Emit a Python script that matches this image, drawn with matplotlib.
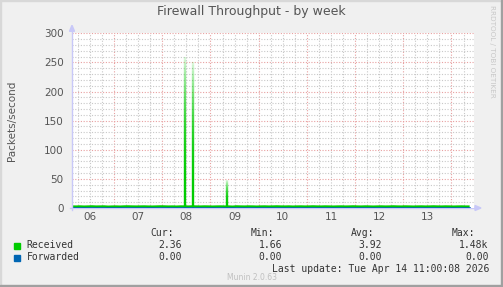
import numpy as np
import matplotlib
matplotlib.use("Agg")
import matplotlib.pyplot as plt
from matplotlib.collections import LineCollection
from matplotlib.patches import Rectangle

W, H = 503, 287
title = "Firewall Throughput - by week"
ylabel = "Packets/second"
day_labels = ["06", "07", "08", "09", "10", "11", "12", "13"]
day_positions = [6.5, 7.5, 8.5, 9.5, 10.5, 11.5, 12.5, 13.5]
y_ticks = [0, 50, 100, 150, 200, 250, 300]
x_start, x_end = 6.127, 14.467

# Received baseline, sampled every 2 hours from x_start
received = [2.4, 2.3, 2.5, 2.2, 2.4, 2.6, 2.3, 2.4, 2.5, 2.1, 2.3, 2.4,
            2.2, 2.5, 2.6, 2.4, 2.3, 2.4, 2.5, 2.3, 2.2, 2.4, 2.6, 2.5,
            2.3, 2.4, 2.2, 2.5, 2.4, 2.3, 2.6, 2.4, 2.3, 2.5, 2.4, 2.2,
            2.4, 2.5, 2.3, 2.4, 2.1, 2.6, 2.4, 2.3, 2.5, 2.4, 2.2, 2.4,
            2.5, 2.3, 2.4, 2.6, 2.4, 2.3, 2.5, 2.2, 2.4, 2.5, 2.3, 2.4,
            2.6, 2.4, 2.3, 2.5, 2.4, 2.2, 2.4, 2.5, 2.3, 2.4, 2.6, 2.4,
            2.3, 2.5, 2.4, 2.2, 2.4, 2.5, 2.3, 2.4, 2.6, 2.4, 2.3, 2.5,
            2.4, 2.2, 2.4, 2.5, 2.3, 2.4, 2.6, 2.4, 2.3, 2.5, 2.4, 2.2,
            2.4, 2.5, 2.3, 2.36]
forwarded = [0.0] * len(received)
spike_times = [8.47, 8.63, 9.34]
spike_values = [260, 250, 48]

legend_names = ["Received", "Forwarded"]
legend_colors = ["#00cc00", "#0066b3"]
cur_vals = ["2.36", "0.00"]
min_vals = ["1.66", "0.00"]
avg_vals = ["3.92", "0.00"]
max_vals = ["1.48k", "0.00"]
last_update = "Last update: Tue Apr 14 11:00:08 2026"
munin_ver = "Munin 2.0.63"

fig = plt.figure(figsize=(W / 100, H / 100), dpi=100, facecolor="#f0f0f0")

def fx(x):
    return x / W

def fy(y):
    return 1 - y / H

L, R, T, B = 72, 474, 33.3, 208
ax = fig.add_axes([fx(L), fy(B), (R - L) / W, (B - T) / H])
ax.set_facecolor("white")
ax.set_xlim(x_start, x_end)
ax.set_ylim(0, 300)
for s in ax.spines.values():
    s.set_visible(False)
ax.tick_params(length=0)

# grids
for v in np.arange(x_start - x_start % 0.25 + 0.25, x_end, 0.25):
    major = abs(v - round(v)) < 1e-6
    ax.axvline(v, color="#e8a0a0" if major else "#c8c8c8", lw=0.8,
               ls=(0, (1, 1.5)), zorder=1)
for v in range(10, 301, 10):
    major = v % 50 == 0
    ax.axhline(v, color="#e8a0a0" if major else "#c8c8c8", lw=0.8,
               ls=(0, (1, 1.5)), zorder=1)

t = x_start + np.arange(len(received)) / 12.0
rec = np.array(received, dtype=float)
ax.plot(t, rec, color="#00cc00", lw=1.8, zorder=3, solid_capstyle="butt")

# spikes with gradient fade toward the top
for st, sv in zip(spike_times, spike_values):
    n = 50
    ys = np.linspace(0, sv, n + 1)
    segs = [[(st, ys[i]), (st, ys[i + 1])] for i in range(n)]
    alphas = np.clip(1.0 - np.linspace(0, 1, n) ** 2.5 * 0.85, 0.1, 1)
    cols = [(0, 0.8, 0, a) for a in alphas]
    ax.add_collection(LineCollection(segs, colors=cols, linewidths=1.7, zorder=3))

ax.plot(t, forwarded, color="#0066b3", lw=1.2, zorder=4)

ax.set_xticks(day_positions)
ax.set_xticklabels(day_labels, fontsize=7.5, color="#555555")
ax.set_yticks(y_ticks)
ax.set_yticklabels([str(v) for v in y_ticks], fontsize=7.5, color="#555555")
ax.tick_params(axis="x", pad=3)
ax.tick_params(axis="y", pad=6)

# axes lines with arrows
ax_col = "#c8c8f8"
fig.add_artist(matplotlib.lines.Line2D([fx(L), fx(L)], [fy(B + 2), fy(T - 3)], color=ax_col, lw=1))
fig.add_artist(matplotlib.lines.Line2D([fx(L - 2), fx(R + 2)], [fy(B), fy(B)], color=ax_col, lw=1, zorder=0))
fig.add_artist(matplotlib.patches.Polygon([[fx(L - 2.5), fy(T - 2)], [fx(L + 2.5), fy(T - 2)], [fx(L), fy(T - 8)]],
                                          closed=True, color=ax_col, transform=fig.transFigure))
fig.add_artist(matplotlib.patches.Polygon([[fx(R + 1), fy(B - 2.5)], [fx(R + 1), fy(B + 2.5)], [fx(R + 7), fy(B)]],
                                          closed=True, color=ax_col, transform=fig.transFigure))

fig.text(fx(251), fy(12), title, ha="center", va="center", fontsize=9, color="#555555")
fig.text(fx(12), fy(120.5), ylabel, ha="center", va="center", rotation=90, fontsize=7.5, color="#555555")
fig.text(fx(492), fy(5), "RRDTOOL / TOBI OETIKER", ha="center", va="top", rotation=270,
         fontsize=5.2, color="#c8c8c8")

mono = "DejaVu Sans Mono"
fs = 7
txtc = "#333333"
hdr_y = 233
for lab, xr in zip(["Cur:", "Min:", "Avg:", "Max:"], [174, 274.5, 374.5, 475]):
    fig.text(fx(xr), fy(hdr_y), lab, ha="right", va="center", family=mono, fontsize=fs, color=txtc)
rows_y = [245.5, 257.5]
for i in range(2):
    y = rows_y[i]
    fig.add_artist(Rectangle((fx(14), fy(y + 3)), 6 / W, 6 / H, color=legend_colors[i], transform=fig.transFigure))
    fig.text(fx(26.5), fy(y), legend_names[i], ha="left", va="center", family=mono, fontsize=fs, color=txtc)
    for vals, xr in zip([cur_vals, min_vals, avg_vals, max_vals], [181.5, 282, 382, 488.5]):
        fig.text(fx(xr), fy(y), vals[i], ha="right", va="center", family=mono, fontsize=fs, color=txtc)
fig.text(fx(489), fy(269.5), last_update, ha="right", va="center", family=mono, fontsize=fs, color=txtc)
fig.text(fx(252), fy(277.5), munin_ver, ha="center", va="center", fontsize=5.5, color="#c0c0c0")

# image border
fig.add_artist(Rectangle((0, 0), 1 / W, 1, color="#d8d8d8", transform=fig.transFigure))
fig.add_artist(Rectangle((0, 1 - 1 / H), 1, 1 / H, color="#d8d8d8", transform=fig.transFigure))
fig.add_artist(Rectangle((1 - 2 / W, 0), 2 / W, 1, color="#a0a0a0", transform=fig.transFigure))
fig.add_artist(Rectangle((0, 0), 1, 2 / H, color="#a0a0a0", transform=fig.transFigure))

fig.savefig("out.png", dpi=100, facecolor=fig.get_facecolor())
